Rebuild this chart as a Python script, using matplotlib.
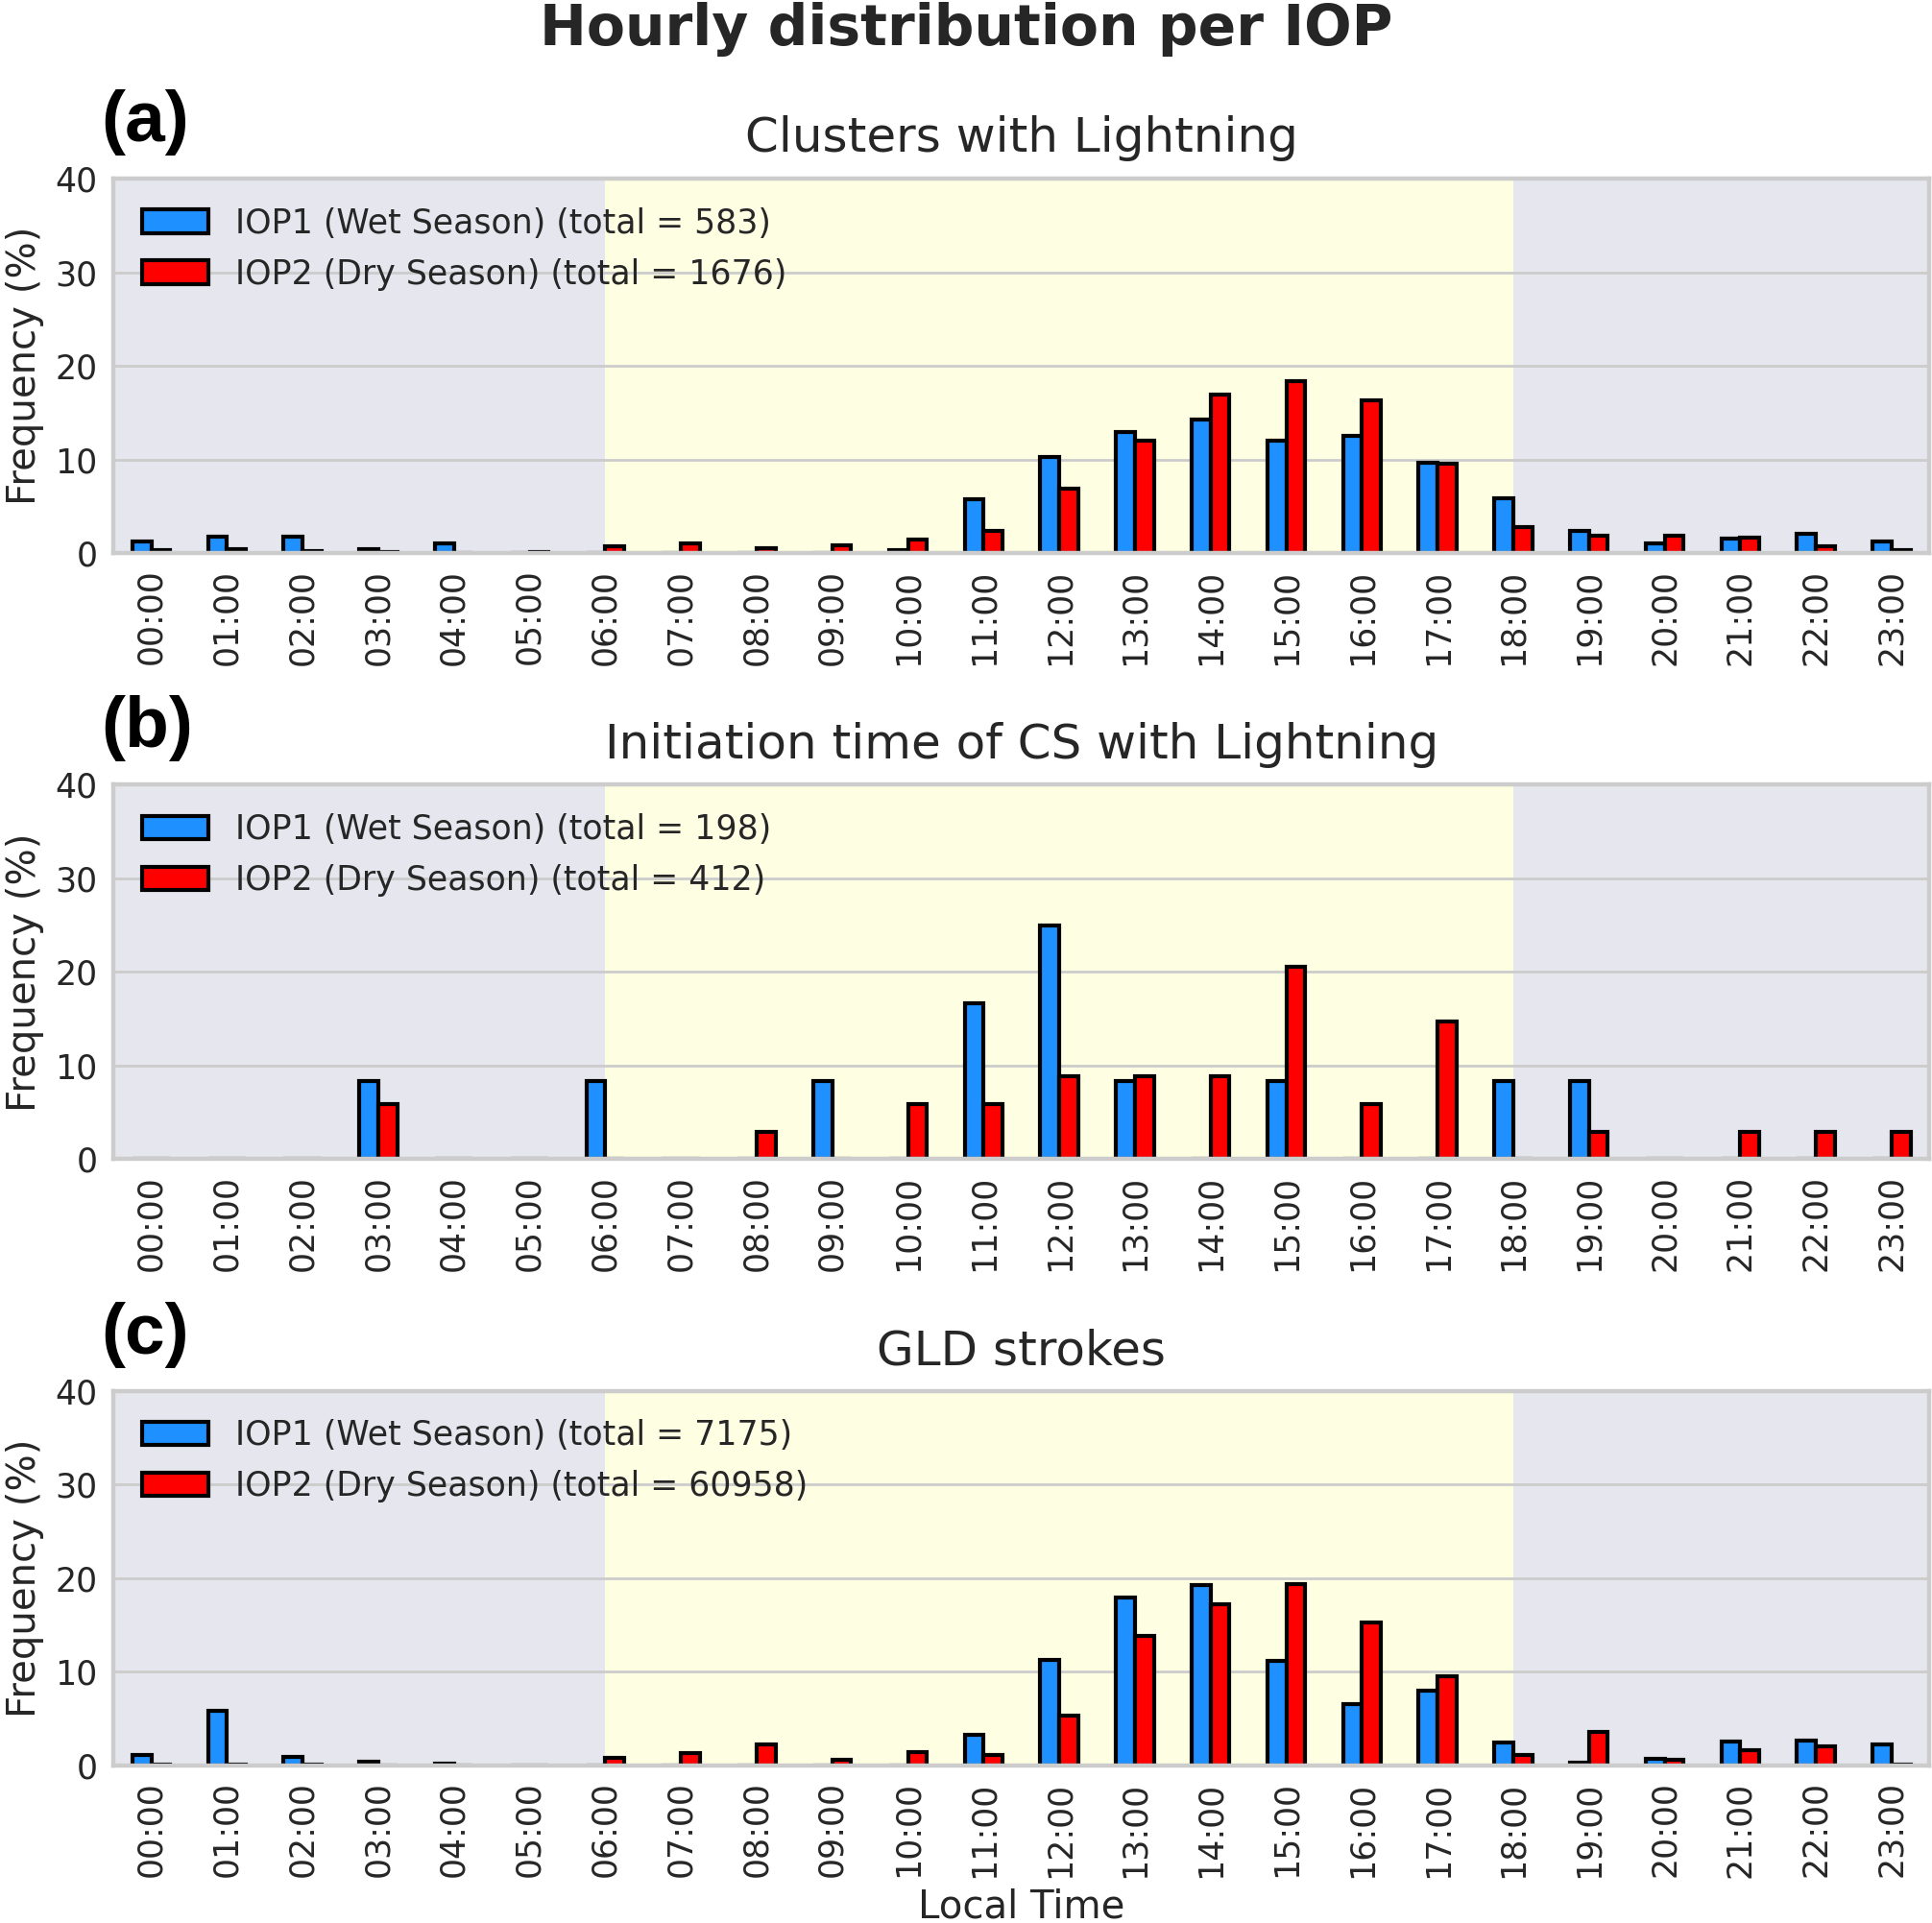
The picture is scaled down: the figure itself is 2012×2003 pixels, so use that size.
import matplotlib
matplotlib.use('Agg')
import matplotlib.pyplot as plt
import numpy as np

# hourly frequencies (%)
hours = [f'{h:02d}:00' for h in range(24)]

clusters_iop1 = [1.2, 1.7, 1.7, 0.45, 1.0, 0.05, 0, 0, 0, 0, 0.35, 5.7,
                 10.3, 12.9, 14.3, 12.0, 12.5, 9.6, 5.8, 2.4, 1.0, 1.5, 2.1, 1.2]
clusters_iop2 = [0.35, 0.45, 0.25, 0.15, 0.05, 0.15, 0.7, 1.0, 0.56, 0.8, 1.4, 2.4,
                 6.9, 12.0, 16.9, 18.4, 16.3, 9.5, 2.8, 1.9, 1.8, 1.6, 0.7, 0.3]

init_iop1 = [0, 0, 0, 8.33, 0, 0, 8.33, 0, 0, 8.33, 0, 16.67,
             25.0, 8.33, 0, 8.33, 0, 0, 8.33, 8.33, 0, 0, 0, 0]
init_iop2 = [0, 0, 0, 5.88, 0, 0, 0, 0, 2.94, 0, 5.88, 5.88,
             8.82, 8.82, 8.82, 20.59, 5.88, 14.71, 0, 2.94, 0, 2.94, 2.94, 2.94]

gld_iop1 = [1.1, 5.85, 0.9, 0.4, 0.2, 0, 0, 0, 0, 0, 0, 3.3,
            11.3, 17.9, 19.3, 11.2, 6.55, 8.0, 2.45, 0.25, 0.67, 2.55, 2.65, 2.25]
gld_iop2 = [0.1, 0.1, 0.1, 0, 0, 0, 0.8, 1.35, 2.2, 0.6, 1.4, 1.1,
            5.3, 13.8, 17.2, 19.4, 15.25, 9.5, 1.1, 3.6, 0.6, 1.6, 2.0, 0.1]

titles = ['Clusters with Lightning', 'Initiation time of CS with Lightning', 'GLD strokes']
panel_labels = ['(a)', '(b)', '(c)']
totals_iop1 = [583, 198, 7175]
totals_iop2 = [1676, 412, 60958]

plt.rcParams['font.family'] = 'DejaVu Sans'
plt.rcParams['text.color'] = '#262626'
plt.rcParams['axes.labelcolor'] = '#262626'
plt.rcParams['xtick.color'] = '#262626'
plt.rcParams['ytick.color'] = '#262626'

fig, axes = plt.subplots(3, 1, figsize=(10.06, 10.015), dpi=200)
fig.subplots_adjust(left=0.0587, right=0.9987, top=0.9071, bottom=0.082, hspace=0.619)

x = np.arange(24)
width = 0.25
data = [(clusters_iop1, clusters_iop2), (init_iop1, init_iop2), (gld_iop1, gld_iop2)]

for i, ax in enumerate(axes):
    v1, v2 = data[i]
    ax.set_facecolor('#e6e6ef')
    ax.axvspan(6, 18, color='#fefee3', zorder=0, lw=0)
    ax.bar(x - width / 2, v1, width, color='#1e90ff', edgecolor='black', linewidth=1.5,
           label=f'IOP1 (Wet Season) (total = {totals_iop1[i]})', zorder=2)
    ax.bar(x + width / 2, v2, width, color='#ff0000', edgecolor='black', linewidth=1.5,
           label=f'IOP2 (Dry Season) (total = {totals_iop2[i]})', zorder=2)

    ax.set_xlim(-0.5, 23.5)
    ax.set_ylim(0, 40)
    ax.set_yticks([0, 10, 20, 30, 40])
    ax.set_xticks(x)
    ax.set_xticklabels(hours, rotation=90)
    ax.tick_params(axis='both', length=0, labelsize=12.5, pad=6)
    ax.set_axisbelow(True)
    ax.grid(axis='y', color='#cccccc', linewidth=1.0)
    for s in ax.spines.values():
        s.set_color('#cccccc')
        s.set_linewidth(1.6)

    ax.set_ylabel('Frequency (%)', fontsize=14.5)
    ax.set_title(titles[i], fontsize=18, pad=10)
    ax.text(-0.007, 1.15, panel_labels[i], transform=ax.transAxes, fontsize=27,
            fontweight='bold', family='Liberation Sans', color='black',
            ha='left', va='center')
    ax.legend(loc='upper left', frameon=False, fontsize=12.5, labelspacing=0.55,
              handlelength=2.0, borderaxespad=0.45)

axes[-1].set_xlabel('Local Time', fontsize=14.5)
fig.suptitle('Hourly distribution per IOP', fontsize=21, fontweight='bold', y=0.999, va='top')

fig.savefig('out.png', dpi=200)
